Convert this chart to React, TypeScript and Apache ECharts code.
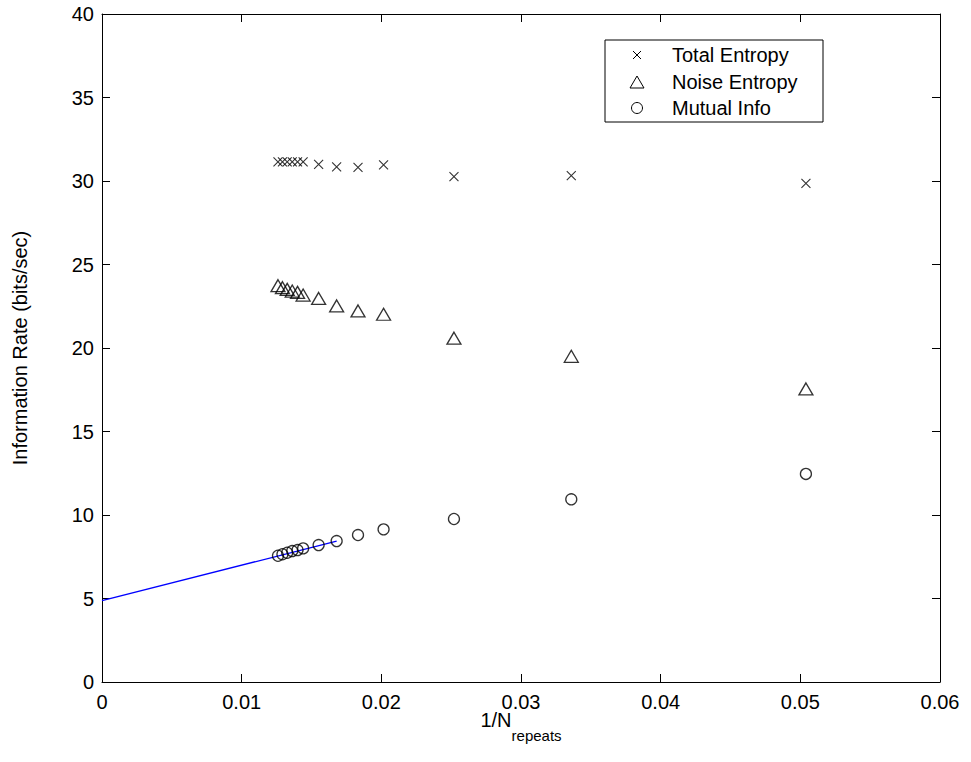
import React, { useEffect, useRef } from "react";
import * as echarts from "echarts";

const invRepeats = [0.0126, 0.01292, 0.01326, 0.01362, 0.014, 0.0144, 0.01551, 0.0168, 0.01833, 0.02016, 0.0252, 0.0336, 0.0504];
const totalEntropy = [31.15, 31.15, 31.15, 31.15, 31.15, 31.15, 31.0, 30.85, 30.82, 30.97, 30.26, 30.32, 29.86];
const noiseEntropy = [23.73, 23.61, 23.51, 23.41, 23.33, 23.17, 22.97, 22.52, 22.22, 22.02, 20.59, 19.5, 17.55];
const mutualInfo = [7.56, 7.65, 7.74, 7.84, 7.9, 8.0, 8.2, 8.44, 8.8, 9.14, 9.76, 10.94, 12.46];
const fitX = [0, 0.0168];
const fitY = [4.87, 8.44];
const legendNames = ["Total Entropy", "Noise Entropy", "Mutual Info"];

const FONT = "'Liberation Sans', Arial, Helvetica, sans-serif";

export default function App() {
  const ref = useRef<HTMLDivElement>(null);
  useEffect(() => {
    if (!ref.current) return;
    const chart = echarts.init(ref.current, null, { renderer: "svg" });
    const pair = (xs: number[], ys: number[]) => xs.map((x, i) => [x, ys[i]]);
    const line = { show: true, onZero: false, lineStyle: { color: "#000", width: 1 } };
    const tick = () => ({ show: true, inside: true, length: 8, lineStyle: { color: "#000", width: 1 } });
    const lx = 637;
    const tx = 672;
    const rows = [55, 82, 108];
    chart.setOption({
      animation: false,
      backgroundColor: "#fff",
      textStyle: { fontFamily: FONT },
      grid: { left: 102, right: 31, top: 14, bottom: 80 },
      xAxis: [
        {
          type: "value",
          min: 0,
          max: 0.06,
          interval: 0.01,
          position: "bottom",
          axisLine: line,
          axisTick: tick(),
          splitLine: { show: false },
          axisLabel: {
            color: "#000",
            fontSize: 20,
            fontFamily: FONT,
            margin: 10,
            formatter: (v: number) => String(+v.toFixed(2)),
          },
          name: "{a|1/N}{b|repeats}",
          nameLocation: "middle",
          nameGap: 28,
          nameMoveOverlap: false,
          nameTextStyle: {
            color: "#000",
            fontFamily: FONT,
            rich: {
              a: { fontSize: 20, color: "#000", fontFamily: FONT, verticalAlign: "top", lineHeight: 20 },
              b: { fontSize: 15, color: "#000", fontFamily: FONT, verticalAlign: "top", padding: [18, 0, 0, 0], lineHeight: 16 },
            },
          },
        },
        {
          type: "value",
          min: 0,
          max: 0.06,
          interval: 0.01,
          position: "top",
          axisLine: line,
          axisTick: tick(),
          splitLine: { show: false },
          axisLabel: { show: false },
        },
      ],
      yAxis: [
        {
          type: "value",
          min: 0,
          max: 40,
          interval: 5,
          position: "left",
          axisLine: line,
          axisTick: tick(),
          splitLine: { show: false },
          axisLabel: { color: "#000", fontSize: 20, fontFamily: FONT, margin: 8 },
          name: "Information Rate (bits/sec)",
          nameLocation: "middle",
          nameGap: 72,
          nameMoveOverlap: false,
          nameTextStyle: { color: "#000", fontSize: 20, fontFamily: FONT },
        },
        {
          type: "value",
          min: 0,
          max: 40,
          interval: 5,
          position: "right",
          axisLine: line,
          axisTick: tick(),
          splitLine: { show: false },
          axisLabel: { show: false },
        },
      ],
      series: [
        {
          name: "fit",
          type: "line",
          data: pair(fitX, fitY),
          showSymbol: false,
          lineStyle: { color: "#0000ff", width: 1.3 },
          z: 1,
        },
        {
          name: legendNames[0],
          type: "scatter",
          data: pair(invRepeats, totalEntropy),
          symbol: "path://M0,0L10,10M0,10L10,0",
          symbolSize: 9,
          itemStyle: { color: "transparent", borderColor: "#000", borderWidth: 1.1 },
          z: 3,
        },
        {
          name: legendNames[1],
          type: "scatter",
          data: pair(invRepeats, noiseEntropy),
          symbol: "triangle",
          symbolSize: [14, 12],
          itemStyle: { color: "transparent", borderColor: "#000", borderWidth: 1.3 },
          z: 3,
        },
        {
          name: legendNames[2],
          type: "scatter",
          data: pair(invRepeats, mutualInfo),
          symbol: "circle",
          symbolSize: 11,
          itemStyle: { color: "transparent", borderColor: "#000", borderWidth: 1.3 },
          z: 3,
        },
      ],
      graphic: [
        {
          type: "rect",
          shape: { x: 605, y: 40, width: 218, height: 82 },
          style: { fill: "#fff", stroke: "#000", lineWidth: 1 },
          z: 10,
        },
        { type: "line", shape: { x1: lx - 4, y1: rows[0] - 4, x2: lx + 4, y2: rows[0] + 4 }, style: { stroke: "#000", lineWidth: 1 }, z: 11 },
        { type: "line", shape: { x1: lx - 4, y1: rows[0] + 4, x2: lx + 4, y2: rows[0] - 4 }, style: { stroke: "#000", lineWidth: 1 }, z: 11 },
        {
          type: "polygon",
          shape: { points: [[lx, rows[1] - 6], [lx + 7, rows[1] + 6], [lx - 7, rows[1] + 6]] },
          style: { fill: "none", stroke: "#000", lineWidth: 1 },
          z: 11,
        },
        { type: "circle", shape: { cx: lx, cy: rows[2], r: 5.5 }, style: { fill: "none", stroke: "#000", lineWidth: 1 }, z: 11 },
        ...legendNames.map((n, i) => ({
          type: "text",
          x: tx,
          y: rows[i],
          style: { text: n, fill: "#000", fontSize: 20, fontFamily: FONT, verticalAlign: "middle", align: "left" },
          z: 11,
        })),
      ],
    });
    return () => chart.dispose();
  }, []);
  return <div ref={ref} style={{ position: "fixed", left: 0, top: 0, width: 971, height: 762 }} />;
}
